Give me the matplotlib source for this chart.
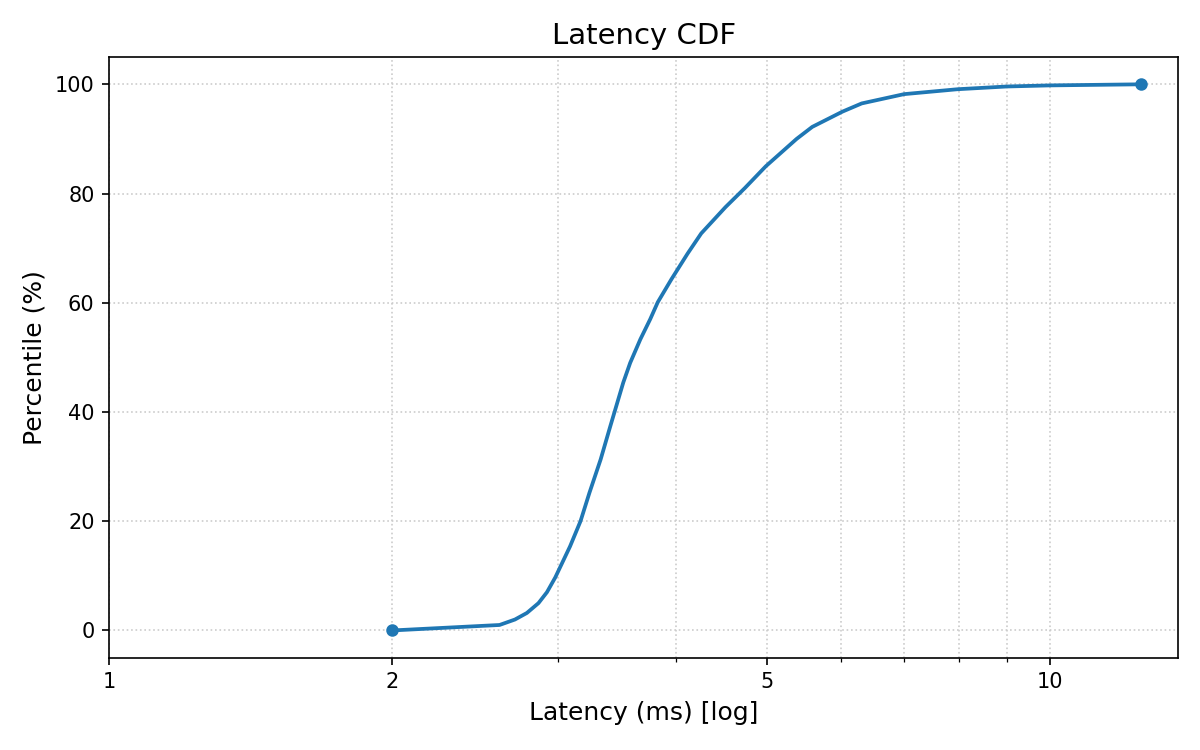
import matplotlib
matplotlib.use("Agg")
import matplotlib.pyplot as plt
from matplotlib.ticker import ScalarFormatter, NullFormatter, FixedLocator

latency_ms = [2.0, 2.6, 2.7, 2.78, 2.86, 2.92, 2.98, 3.09, 3.17, 3.24, 3.33,
              3.41, 3.52, 3.58, 3.67, 3.76, 3.83, 3.96, 4.12, 4.26, 4.52,
              4.74, 4.99, 5.38, 5.59, 6.02, 6.31, 7.0, 7.98, 9.0, 10.0, 12.5]
percentile = [0, 1, 2, 3.2, 5, 7, 9.7, 15.4, 20, 25.2, 31.3,
              37.4, 45.4, 49, 53.3, 57, 60.1, 64.3, 69, 72.7, 77.5,
              81, 85, 90, 92.2, 95, 96.5, 98.2, 99.1, 99.6, 99.8, 100]
major_ticks = [1, 2, 5, 10]

fig, ax = plt.subplots(figsize=(8, 5), dpi=150)
ax.plot(latency_ms, percentile, color="#1f77b4", lw=1.8,
        marker="o", markersize=5, markevery=[0, len(latency_ms) - 1])
ax.set_xscale("log")
ax.set_xlim(left=1)
ax.xaxis.set_major_locator(FixedLocator(major_ticks))
ax.xaxis.set_major_formatter(ScalarFormatter())
ax.xaxis.set_minor_formatter(NullFormatter())
ax.grid(True, which="both", axis="x", linestyle=":", color="#cccccc", lw=0.8)
ax.grid(True, which="major", axis="y", linestyle=":", color="#cccccc", lw=0.8)
ax.set_title("Latency CDF", fontsize=14)
ax.set_xlabel("Latency (ms) [log]", fontsize=12)
ax.set_ylabel("Percentile (%)", fontsize=12)
fig.subplots_adjust(left=0.091, right=0.982, top=0.924, bottom=0.123)
fig.savefig("out.png")
